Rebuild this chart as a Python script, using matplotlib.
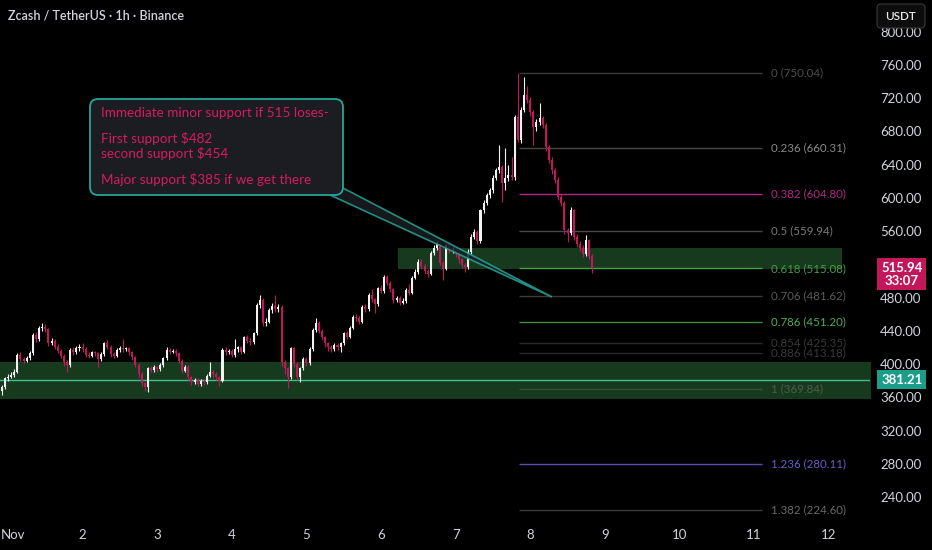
import numpy as np
import matplotlib.pyplot as plt
from matplotlib.patches import FancyBboxPatch, Polygon
from matplotlib.transforms import ScaledTranslation

plt.rcParams['font.family'] = ['Lato', 'DejaVu Sans']

# hourly candles, first one is Oct 31 22:00 (hour -2 from Nov 1 00:00)
first_open = 368
closes = [
    372, 383, 385, 387, 391, 411, 406, 404, 407, 413, 435, 430,
    443, 445, 442, 425, 428, 421, 416, 410, 402, 399, 417, 414,
    419, 421, 418, 411, 410, 414, 413, 406, 412, 425, 421, 412,
    410, 417, 419, 418, 419, 414, 408, 399, 388, 377, 372, 395,
    393, 396, 394, 399, 407, 417, 415, 416, 413, 404, 392, 397,
    384, 378, 381, 376, 380, 378, 386, 391, 388, 384, 380, 417,
    414, 416, 411, 418, 420, 415, 432, 428, 426, 437, 471, 477,
    449, 451, 465, 470, 466, 469, 402, 395, 384, 419, 400, 385,
    395, 406, 401, 418, 441, 450, 440, 432, 425, 420, 418, 423,
    420, 425, 437, 433, 444, 457, 455, 451, 469, 466, 483, 478,
    472, 491, 488, 505, 498, 490, 477, 480, 474, 476, 489, 486,
    504, 511, 523, 518, 512, 509, 534, 540, 544, 522, 515, 543,
    537, 539, 532, 526, 519, 517, 535, 553, 559, 548, 585, 594,
    603, 609, 624, 633, 637, 618, 624, 628, 625, 697, 670, 706,
    724, 718, 703, 685, 691, 696, 688, 661, 646, 633, 622, 601,
    594, 561, 558, 585, 553, 545, 540, 533, 549, 530, 515.94,
]
highs = [
    375, 385, 388, 390, 394, 413, 414, 409, 410, 416, 437, 438,
    446, 449, 448, 444, 431, 430, 424, 418, 412, 405, 419, 420,
    422, 424, 425, 420, 414, 416, 416, 415, 414, 427, 429, 423,
    414, 419, 422, 430, 421, 421, 416, 410, 401, 390, 379, 397,
    398, 399, 398, 401, 409, 420, 419, 418, 418, 415, 406, 399,
    399, 386, 383, 383, 382, 382, 388, 402, 393, 390, 386, 419,
    420, 418, 418, 430, 422, 422, 434, 435, 431, 439, 473, 483,
    479, 455, 467, 473, 483, 472, 471, 405, 397, 421, 421, 402,
    397, 408, 409, 421, 443, 455, 452, 442, 434, 427, 423, 425,
    425, 427, 439, 440, 446, 459, 460, 458, 471, 472, 485, 490,
    480, 493, 495, 507, 507, 500, 492, 482, 482, 479, 491, 496,
    506, 514, 526, 526, 521, 515, 536, 543, 549, 546, 524, 545,
    546, 542, 541, 534, 528, 522, 538, 556, 562, 561, 587, 597,
    606, 612, 627, 636, 664, 640, 660, 640, 649, 700, 750, 710,
    745, 735, 721, 706, 695, 714, 699, 690, 664, 649, 636, 625,
    604, 596, 564, 589, 587, 556, 548, 543, 555, 551, 533,
]
lows = [
    363, 370, 380, 383, 385, 389, 403, 401, 402, 405, 411, 427,
    428, 440, 439, 422, 423, 418, 413, 407, 398, 390, 397, 411,
    412, 416, 415, 408, 407, 408, 410, 396, 404, 410, 418, 409,
    407, 408, 415, 415, 416, 411, 405, 396, 385, 374, 368, 366,
    390, 391, 391, 392, 397, 405, 412, 413, 410, 401, 389, 390,
    381, 375, 376, 373, 374, 375, 376, 384, 385, 381, 374, 378,
    411, 412, 408, 409, 415, 412, 413, 425, 423, 424, 435, 468,
    446, 446, 449, 462, 463, 463, 398, 388, 371, 382, 397, 381,
    378, 393, 398, 399, 416, 439, 437, 429, 420, 416, 415, 416,
    417, 415, 423, 430, 431, 442, 452, 448, 449, 463, 464, 475,
    461, 470, 485, 486, 495, 487, 474, 475, 471, 472, 474, 483,
    484, 502, 509, 515, 509, 505, 507, 531, 537, 519, 501, 513,
    534, 534, 529, 522, 516, 511, 515, 533, 550, 545, 546, 582,
    591, 600, 606, 621, 630, 595, 610, 620, 621, 622, 667, 666,
    703, 714, 699, 664, 681, 688, 684, 657, 642, 629, 618, 597,
    590, 557, 547, 555, 549, 541, 536, 529, 530, 526, 510,
]
opens = [first_open] + closes[:-1]
hours = np.arange(len(closes)) - 2

# support zones
zone_low = [358.0, 514.4]
zone_high = [402.5, 539.7]
zone_start = [-3, 125.5]
zone_end = [280, 268.3]
last_support = 381.21
last_price = 515.94
countdown = "33:07"

# fibonacci retracement
fib_levels = ["0", "0.236", "0.382", "0.5", "0.618", "0.706", "0.786",
              "0.854", "0.886", "1", "1.236", "1.382"]
fib_prices = [750.04, 660.31, 604.80, 559.94, 515.08, 481.62, 451.20,
              425.35, 413.18, 369.84, 280.11, 224.60]
fib_line_colors = ["#3a3a3a", "#4a4a4a", "#b0288a", "#4a4a4a", "#43a047", "#3a3a3a",
                   "#3e8e41", "#2a2a2a", "#2a2a2a", "#35503a", "#5c4fb0", "#3a3a3a"]
fib_text_colors = ["#4e4e4e", "#8a8a8a", "#b0288a", "#7a7a7a", "#43a047", "#5a5a5a",
                   "#4caf50", "#3a3a3a", "#3a3a3a", "#4a5e4c", "#6a5fc8", "#6a6a6a"]
fib_start, fib_end = 164.4, 242.6

day_ticks = np.arange(0, 265, 24)
day_labels = ["Nov", "2", "3", "4", "5", "6", "7", "8", "9", "10", "11", "12"]
price_ticks = np.arange(240, 801, 40)

bull, bear = "#f2f2f2", "#c2185b"
bg = "#000000"

fig = plt.figure(figsize=(9.32, 5.5), dpi=100, facecolor=bg)
ax = fig.add_axes([0, 28 / 550, 870 / 932, 522 / 550], facecolor=bg)
ax.set_xlim(-2.574, 277.3)
ax.set_ylim(209.9, 838.2)

for lo, hi, s, e in zip(zone_low, zone_high, zone_start, zone_end):
    ax.fill_between([s, e], lo, hi, color="#173a1f", lw=0, zorder=1)
ax.axhline(last_support, color="#3fbf8f", lw=1.0, zorder=2)

for lvl, p, lc, tc in zip(fib_levels, fib_prices, fib_line_colors, fib_text_colors):
    ax.hlines(p, fib_start, fib_end, color=lc, lw=1.0, zorder=2)
    ax.text(fib_end + 2.9, p, f"{lvl} ({p:.2f})", color=tc, fontsize=8.3,
            va="center", ha="left", zorder=3)

o = np.array(opens, dtype=float)
c = np.array(closes, dtype=float)
cols = [bull if cc >= oo else bear for oo, cc in zip(o, c)]
ax.vlines(hours, lows, highs, colors=cols, lw=0.8, zorder=4)
body = np.maximum(np.abs(c - o), 0.9)
ax.bar(hours, body, bottom=np.minimum(o, c), width=0.65, color=cols, lw=0, zorder=5)

# axes styling
for s in ax.spines.values():
    s.set_visible(False)
ax.set_xticks(day_ticks)
ax.set_xticklabels(day_labels)
ax.tick_params(axis="x", length=0, pad=5, colors="#d1d4dc", labelsize=9.5)
first = ax.get_xticklabels()[0]
first.set_horizontalalignment("left")
first.set_transform(first.get_transform() + ScaledTranslation(-0.07, 0, fig.dpi_scale_trans))

ax.yaxis.tick_right()
ax.set_yticks(price_ticks)
# the 520 level sits behind the live price tag
ax.set_yticklabels(["" if v == 520 else f"{v:.2f}" for v in price_ticks])
ax.tick_params(axis="y", length=0, pad=37, colors="#d1d4dc", labelsize=9.5)
for lab in ax.get_yticklabels():
    lab.set_horizontalalignment("right")

# price tags on the right scale
ax.text(1.0365, 381.21, f"{last_support:.2f}", transform=ax.get_yaxis_transform(),
        ha="center", va="center", color="white", fontsize=9.5, fontweight="bold", zorder=10,
        bbox=dict(boxstyle="square,pad=0.28", fc="#1a9e8a", ec="none"))
ax.text(1.0365, 508, f"{last_price:.2f}\n{countdown}", transform=ax.get_yaxis_transform(),
        ha="center", va="center", color="white", fontsize=9.5, fontweight="bold", zorder=10,
        linespacing=1.05, bbox=dict(boxstyle="square,pad=0.28", fc="#c2185b", ec="none"))

# title and currency button
fig.text(8 / 932, 1 - 15 / 550, "Zcash / TetherUS · 1h · Binance", color="#d1d4dc",
         fontsize=9, fontweight="semibold", va="center", ha="left")
fig.patches.append(FancyBboxPatch((8.77, 5.22), 0.48, 0.24, boxstyle="round,pad=0,rounding_size=0.04",
                                  transform=fig.dpi_scale_trans, fc="#0d0d0d", ec="#3a3a3a", lw=0.8))
fig.text(9.01, 5.34, "USDT", transform=fig.dpi_scale_trans, color="#e8e8e8",
         fontsize=8.5, fontweight="semibold", ha="center", va="center")

# callout with pointer
box_fc, box_ec = "#1b1d22", "#26a69a"
ptr = Polygon([(3.30, 3.55), (3.43, 3.62), (5.52, 2.53)], closed=True, transform=fig.dpi_scale_trans,
              fc=box_fc, ec=box_ec, lw=1.2, alpha=0.85, zorder=8)
fig.patches.append(ptr)
fig.patches.append(FancyBboxPatch((0.90, 3.55), 2.53, 0.96, boxstyle="round,pad=0,rounding_size=0.08",
                                  transform=fig.dpi_scale_trans, fc=box_fc, ec=box_ec, lw=1.3, zorder=9))
note_lines = ["Immediate minor support if 515 loses-", "First support $482",
              "second support $454", "Major support $385 if we get there"]
note_y = [113, 139, 153, 179]
for txt, yy in zip(note_lines, note_y):
    fig.text(1.01, (550 - yy) / 100, txt, transform=fig.dpi_scale_trans, color="#d81b60",
             fontsize=9.7, ha="left", va="center", zorder=10)

fig.savefig("out.png", dpi=100, facecolor=bg)
